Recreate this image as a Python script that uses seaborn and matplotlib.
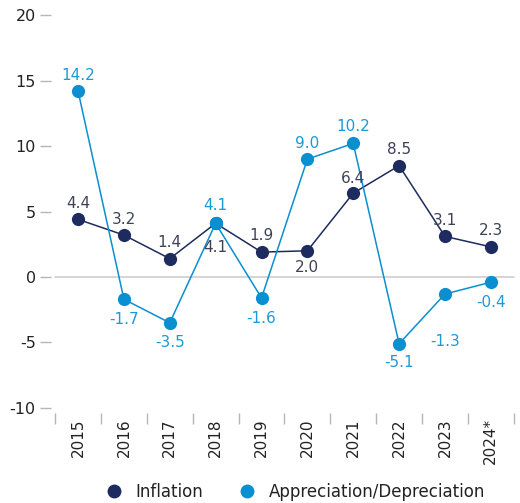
import numpy as np
import pandas as pd
import seaborn as sns
import matplotlib.pyplot as plt

years = ['2015', '2016', '2017', '2018', '2019', '2020', '2021', '2022', '2023', '2024*']
inflation = [4.4, 3.2, 1.4, 4.1, 1.9, 2.0, 6.4, 8.5, 3.1, 2.3]
apprec = [14.2, -1.7, -3.5, 4.1, -1.6, 9.0, 10.2, -5.1, -1.3, -0.4]

# vertical label offsets (pixels) relative to each point
infl_dy = [16, 16, 16, -24, 17, -17, 15, 16, 16, 16]
appr_dy = [16, -20, -20, 18, -21, 16, 17, -19, -47, -20]

navy = '#1e2b5e'
blue = '#0a8fd0'
navy_txt = '#3d4258'
blue_txt = '#1b9ad8'
grey = '#b3b7bd'

sns.set_style('white')
plt.rcParams['font.family'] = ['DejaVu Sans']

df = pd.DataFrame({'Year': years * 2,
                   'Value': inflation + apprec,
                   'Series': ['Inflation'] * len(years) + ['Appreciation/Depreciation'] * len(years)})

fig = plt.figure(figsize=(5.2, 5.03), dpi=100)
ax = fig.add_axes([0.106, 0.189, 0.882, 0.781])

ax.axhline(0, color='#c8cacd', lw=1.1, zorder=0)
sns.lineplot(data=df, x='Year', y='Value', hue='Series', sort=False,
             palette={'Inflation': navy, 'Appreciation/Depreciation': blue},
             marker='o', markersize=9.5, markeredgewidth=0, linewidth=1.1,
             ax=ax, legend=False)
for l in ax.lines:
    l.set_clip_on(False)

for i, (v, d) in enumerate(zip(inflation, infl_dy)):
    ax.annotate(f'{v:.1f}', (i, v), xytext=(0, d), textcoords='offset pixels',
                ha='center', va='center', color=navy_txt, fontsize=11)
for i, (v, d) in enumerate(zip(apprec, appr_dy)):
    ax.annotate(f'{v:.1f}', (i, v), xytext=(0, d), textcoords='offset pixels',
                ha='center', va='center', color=blue_txt, fontsize=11)

ax.set_ylim(-10, 20)
ax.set_xlim(-0.5, len(years) - 0.5)
ax.set_yticks(range(-10, 21, 5))
ax.set_yticklabels([str(t) for t in range(-10, 21, 5)])
ax.set_xticks(range(len(years)))
ax.set_xticklabels(years)
ax.set_xticks(np.arange(-0.5, len(years)), minor=True)
ax.set_xlabel('')
ax.set_ylabel('')

for s in ax.spines.values():
    s.set_visible(False)
ax.spines['left'].set_position(('outward', 3))
ax.spines['bottom'].set_position(('outward', 3.5))
ax.tick_params(axis='y', left=True, length=8, width=1, color=grey,
               pad=3, labelsize=11.5, labelcolor='#222222')
ax.tick_params(axis='x', which='major', bottom=True, length=0, pad=4,
               labelsize=11, labelcolor='#222222', labelrotation=90)
ax.tick_params(axis='x', which='minor', bottom=True, length=8, width=1,
               color=grey)

handles = [plt.Line2D([], [], marker='o', ls='', color=navy, markersize=10, markeredgewidth=0),
           plt.Line2D([], [], marker='o', ls='', color=blue, markersize=10, markeredgewidth=0)]
fig.legend(handles, ['Inflation', 'Appreciation/Depreciation'], ncol=2, frameon=False,
           loc='center', bbox_to_anchor=(0.56, 0.022), fontsize=12,
           handletextpad=0.3, columnspacing=1.6, labelcolor='#222222')

fig.savefig('out.png', dpi=100)
